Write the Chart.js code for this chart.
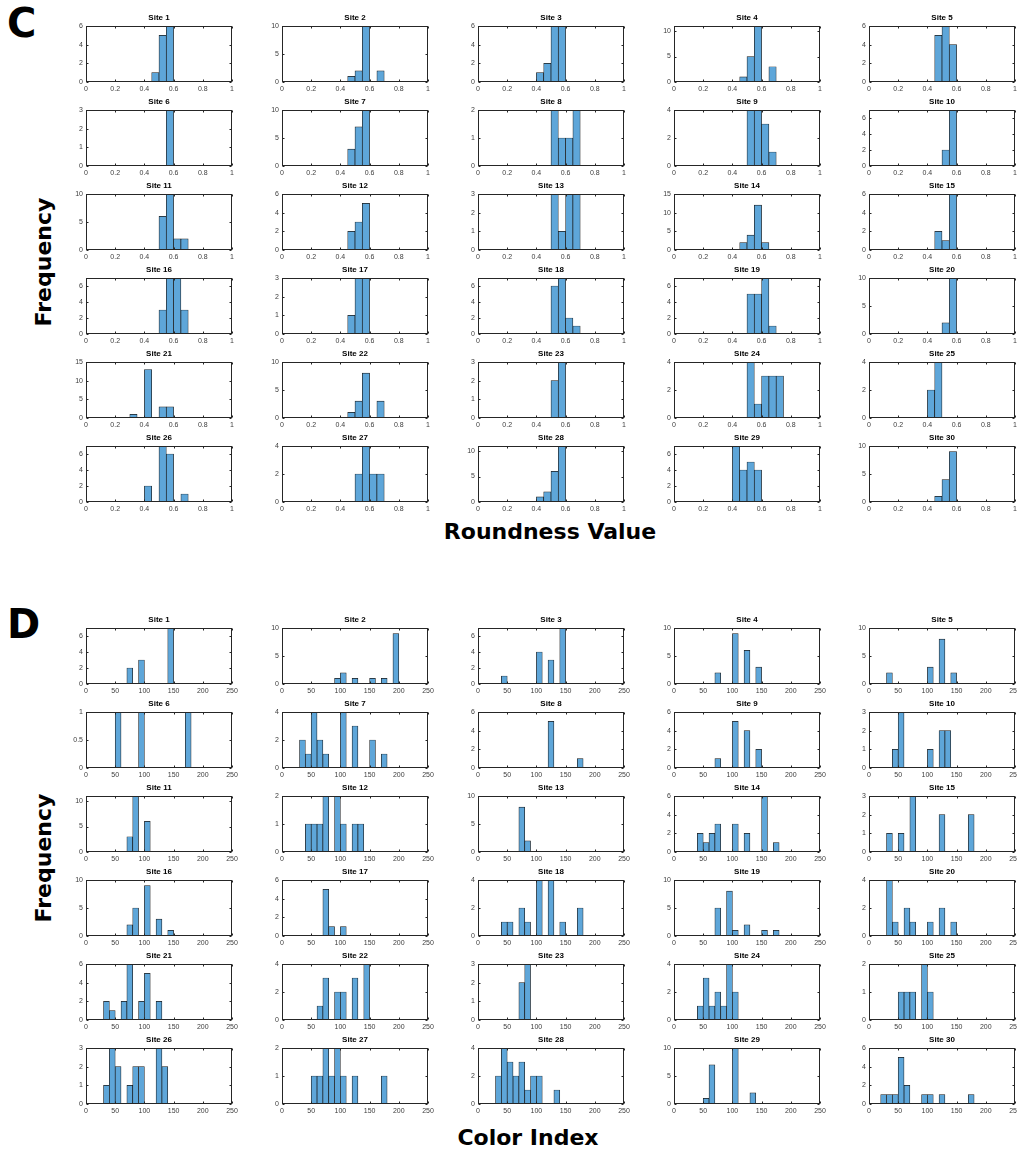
<!DOCTYPE html>
<html>
<head>
<meta charset="utf-8">
<script src="https://cdn.jsdelivr.net/npm/chart.js@4.4.1/dist/chart.umd.min.js"></script>
<style>
  body { margin: 0; background: #fff; width: 1017px; height: 1154px; position: relative; overflow: hidden; }
  canvas { position: absolute; }
  .lbl { position: absolute; font-family: 'DejaVu Sans', sans-serif; font-weight: bold; color: #000; white-space: nowrap; line-height: 1; }
  .panel { font-size: 40px; }
  .axis { font-size: 22px; transform: translate(-50%, -50%); }
  .axis.v { transform: translate(-50%, -50%) rotate(-90deg); }
</style>
</head>
<body>
<div class="lbl panel" style="left:7px;top:3px">C</div>
<div class="lbl panel" style="left:7px;top:604px">D</div>
<div class="lbl axis v" style="left:44px;top:262px">Frequency</div>
<div class="lbl axis v" style="left:44px;top:858px">Frequency</div>
<div class="lbl axis" style="left:550px;top:532px">Roundness Value</div>
<div class="lbl axis" style="left:528px;top:1138px">Color Index</div>
<script>
// ── DATA ──
// panel C: roundness histograms, bins of 0.05 on 0..1, [bin start, count]
const roundnessBinWidth = 0.05;
const roundnessRange = [0, 1];
const roundnessTicks = 0.2;
const roundnessCounts = [
  [[0.45,1],[0.5,5],[0.55,6]],
  [[0.45,1],[0.5,2],[0.55,10],[0.65,2]],
  [[0.4,1],[0.45,2],[0.5,6],[0.55,6]],
  [[0.45,1],[0.5,5],[0.55,11],[0.65,3]],
  [[0.45,5],[0.5,6],[0.55,4]],
  [[0.55,3]],
  [[0.45,3],[0.5,7],[0.55,10]],
  [[0.5,2],[0.55,1],[0.6,1],[0.65,2]],
  [[0.5,4],[0.55,4],[0.6,3],[0.65,1]],
  [[0.5,2],[0.55,7]],
  [[0.5,6],[0.55,10],[0.6,2],[0.65,2]],
  [[0.45,2],[0.5,3],[0.55,5]],
  [[0.5,3],[0.55,1],[0.6,3],[0.65,3]],
  [[0.45,2],[0.5,4],[0.55,12],[0.6,2]],
  [[0.45,2],[0.5,1],[0.55,6]],
  [[0.5,3],[0.55,7],[0.6,7],[0.65,3]],
  [[0.45,1],[0.5,3],[0.55,3]],
  [[0.5,6],[0.55,7],[0.6,2],[0.65,1]],
  [[0.5,5],[0.55,5],[0.6,7],[0.65,1]],
  [[0.5,2],[0.55,10]],
  [[0.3,1],[0.4,13],[0.5,3],[0.55,3]],
  [[0.45,1],[0.5,3],[0.55,8],[0.65,3]],
  [[0.5,2],[0.55,3]],
  [[0.5,4],[0.55,1],[0.6,3],[0.65,3],[0.7,3]],
  [[0.4,2],[0.45,4]],
  [[0.4,2],[0.5,7],[0.55,6],[0.65,1]],
  [[0.5,2],[0.55,4],[0.6,2],[0.65,2]],
  [[0.4,1],[0.45,2],[0.5,6],[0.55,11]],
  [[0.4,7],[0.45,4],[0.5,5],[0.55,4]],
  [[0.45,1],[0.5,4],[0.55,9]]
];
const roundnessYMax  = [6,10,6,11,6, 3,10,2,4,7, 10,6,3,15,6, 7,3,7,7,10, 15,10,3,4,4, 7,4,11,7,10];
const roundnessYStep = [2,5,2,5,2,   1,5,1,2,2, 5,2,1,5,2,   2,1,2,2,5,  5,5,1,2,2,   2,2,5,2,5];

// panel D: colour index histograms, bins of 10 on 0..250
const colorBinWidth = 10;
const colorRange = [0, 250];
const colorTicks = 50;
const colorCounts = [
  [[70,2],[90,3],[140,7]],
  [[90,1],[100,2],[120,1],[150,1],[170,1],[190,9]],
  [[40,1],[100,4],[120,3],[140,7]],
  [[70,2],[100,9],[120,6],[140,3]],
  [[30,2],[100,3],[120,8],[140,2]],
  [[50,1],[90,1],[170,1]],
  [[30,2],[40,1],[50,4],[60,2],[70,1],[100,4],[120,3],[150,2],[170,1]],
  [[120,5],[170,1]],
  [[70,1],[100,5],[120,4],[140,2]],
  [[40,1],[50,3],[100,1],[120,2],[130,2]],
  [[70,3],[80,11],[100,6]],
  [[40,1],[50,1],[60,1],[70,2],[90,2],[100,1],[120,1],[130,1]],
  [[70,8],[80,2]],
  [[40,2],[50,1],[60,2],[70,3],[100,3],[120,2],[150,6],[170,1]],
  [[30,1],[50,1],[70,3],[120,2],[170,2]],
  [[70,2],[80,5],[100,9],[120,3],[140,1]],
  [[70,5],[80,1],[100,1]],
  [[40,1],[50,1],[70,2],[80,1],[100,4],[120,4],[140,1],[170,2]],
  [[70,5],[90,8],[100,1],[120,2],[150,1],[170,1]],
  [[30,4],[40,1],[60,2],[70,1],[100,1],[120,2],[140,1]],
  [[30,2],[40,1],[60,2],[70,6],[90,2],[100,5],[120,2]],
  [[60,1],[70,3],[90,2],[100,2],[120,3],[140,4]],
  [[70,2],[80,3]],
  [[40,1],[50,3],[60,1],[70,2],[80,1],[90,4],[100,2]],
  [[50,1],[60,1],[70,1],[90,2],[100,1]],
  [[30,1],[40,3],[50,2],[70,1],[80,2],[90,2],[120,3],[130,2]],
  [[50,1],[60,1],[70,2],[80,1],[90,2],[100,1],[120,1],[170,1]],
  [[30,2],[40,4],[50,3],[60,2],[70,3],[80,1],[90,2],[100,2],[130,1]],
  [[50,1],[60,7],[100,10],[130,2]],
  [[20,1],[30,1],[40,1],[50,5],[60,2],[90,1],[100,1],[120,1],[170,1]]
];
const colorYMax  = [7,10,7,10,10, 1,4,6,6,3, 11,2,10,6,3, 10,6,4,10,4, 6,4,3,4,2, 3,2,4,10,6];
const colorYStep = [2,5,2,5,5, 0.5,2,2,2,1, 5,1,5,2,1, 5,2,2,5,2, 2,2,1,2,1, 1,1,2,5,2];

// ── LAYOUT ──
const colLeft = [86, 282, 478, 674, 869];
const rowTopC = [26, 110, 194, 278, 362, 446];
const rowTopD = [628, 712, 796, 880, 964, 1048];
const PLOT_W = 146, PLOT_H = 56;
const Y_AXIS_W = 17, TITLE_H = 13, X_AXIS_H = 12, PAD_R = 9;

const BAR_FILL = '#5ea6d9';
const FRAME = '#262626';
const TICK_FONT = { family: "'Liberation Sans', Arial, sans-serif", size: 7 };

Chart.defaults.font.family = "'Liberation Sans', Arial, sans-serif";

// plain numbers like MATLAB: 0, 0.2, 1 — not 0.0 / 1.0
const tickText = v => String(Math.round(v * 100) / 100);

// box round the plot + inward tick marks on all four sides
const boxPlugin = {
  id: 'box',
  afterDatasetsDraw(chart) {
    const { ctx, chartArea: a, scales: { x, y } } = chart;
    const L = Math.round(a.left) + 0.5, R = Math.round(a.right) - 0.5;
    const T = Math.round(a.top) + 0.5, B = Math.round(a.bottom) - 0.5;
    ctx.save();
    ctx.strokeStyle = FRAME;
    ctx.lineWidth = 1;
    ctx.strokeRect(L, T, R - L, B - T);
    ctx.beginPath();
    x.ticks.forEach(t => {
      const px = Math.round(x.getPixelForValue(t.value)) + 0.5;
      ctx.moveTo(px, B); ctx.lineTo(px, B - 2);
      ctx.moveTo(px, T); ctx.lineTo(px, T + 2);
    });
    y.ticks.forEach(t => {
      const py = Math.round(y.getPixelForValue(t.value)) + 0.5;
      ctx.moveTo(L, py); ctx.lineTo(L + 2, py);
      ctx.moveTo(R, py); ctx.lineTo(R - 2, py);
    });
    ctx.stroke();
    ctx.restore();
  }
};

function binPoints(sparse, width, range) {
  const n = Math.round((range[1] - range[0]) / width);
  const counts = new Array(n).fill(null);
  sparse.forEach(([start, c]) => { counts[Math.round((start - range[0]) / width)] = c; });
  return counts.map((c, i) => ({ x: range[0] + (i + 0.5) * width, y: c }));
}

function drawHist(left, top, title, sparse, binWidth, range, xStep, yMax, yStep) {
  const cv = document.createElement('canvas');
  const w = Y_AXIS_W + PLOT_W + PAD_R, h = TITLE_H + PLOT_H + X_AXIS_H;
  cv.width = w; cv.height = h;
  cv.style.left = (left - Y_AXIS_W) + 'px';
  cv.style.top = (top - TITLE_H) + 'px';
  document.body.appendChild(cv);

  new Chart(cv.getContext('2d'), {
    type: 'bar',
    data: {
      datasets: [{
        data: binPoints(sparse, binWidth, range),
        backgroundColor: BAR_FILL,
        borderColor: '#1a1a1a',
        borderWidth: 0.7,
        borderSkipped: false,
        barPercentage: 1,
        categoryPercentage: 1,
        grouped: false
      }]
    },
    options: {
      responsive: false,
      animation: false,
      events: [],
      layout: { padding: { left: 0, top: 0, right: PAD_R, bottom: 0 } },
      plugins: {
        legend: { display: false },
        tooltip: { enabled: false },
        title: {
          display: true, text: title, fullSize: false, color: '#000',
          font: { size: 8, weight: 'bold', lineHeight: 1.25 },
          padding: { top: 0, bottom: 3 }
        }
      },
      scales: {
        x: {
          type: 'linear', min: range[0], max: range[1], offset: false,
          grid: { display: false, drawTicks: false }, border: { display: false },
          ticks: { stepSize: xStep, font: TICK_FONT, color: '#3c3c3c', padding: 3, maxRotation: 0,
                   autoSkip: false, includeBounds: false, callback: tickText },
          afterFit: s => { s.height = X_AXIS_H; }
        },
        y: {
          min: 0, max: yMax,
          grid: { display: false, drawTicks: false }, border: { display: false },
          ticks: { stepSize: yStep, font: TICK_FONT, color: '#3c3c3c', padding: 3,
                   autoSkip: false, includeBounds: false, callback: tickText },
          afterFit: s => { s.width = Y_AXIS_W; }
        }
      }
    },
    plugins: [boxPlugin]
  });
}

for (let i = 0; i < 30; i++) {
  const r = Math.floor(i / 5), c = i % 5;
  drawHist(colLeft[c], rowTopC[r], 'Site ' + (i + 1), roundnessCounts[i],
    roundnessBinWidth, roundnessRange, roundnessTicks, roundnessYMax[i], roundnessYStep[i]);
  drawHist(colLeft[c], rowTopD[r], 'Site ' + (i + 1), colorCounts[i],
    colorBinWidth, colorRange, colorTicks, colorYMax[i], colorYStep[i]);
}
</script>
</body>
</html>
